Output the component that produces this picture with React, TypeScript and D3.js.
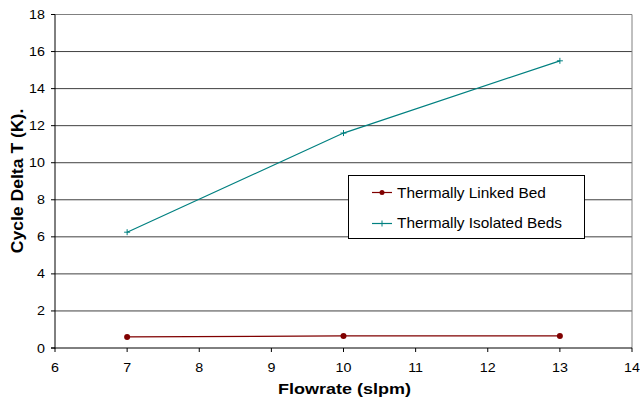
import React from "react";
import * as d3 from "d3";

const flowrates = [7, 10, 13];
const linkedValues = [0.6, 0.65, 0.65];
const isolatedValues = [6.25, 11.6, 15.5];
const xTicks = [6, 7, 8, 9, 10, 11, 12, 13, 14];
const yTicks = [0, 2, 4, 6, 8, 10, 12, 14, 16, 18];
const seriesNames = ["Thermally Linked Bed", "Thermally Isolated Beds"];

export default function App() {
  const W = 640, H = 403;
  const L = 55, R = 632, T = 14.5, B = 348;
  const SX = 1.1;
  const x = d3.scaleLinear().domain([6, 14]).range([L, R]);
  const y = d3.scaleLinear().domain([0, 18]).range([B, T]);
  const line = d3.line<[number, number]>().x(d => x(d[0])).y(d => y(d[1]));
  const linked = flowrates.map((f, i) => [f, linkedValues[i]] as [number, number]);
  const isolated = flowrates.map((f, i) => [f, isolatedValues[i]] as [number, number]);
  const font = "Liberation Sans, Arial, sans-serif";
  const red = "#800000";
  const teal = "#008080";
  const cross = (cx: number, cy: number, c: string, k: string) => (
    <g key={k} stroke={c} strokeWidth={1}>
      <line x1={cx - 3} x2={cx + 3} y1={cy} y2={cy} />
      <line x1={cx} x2={cx} y1={cy - 3} y2={cy + 3} />
    </g>
  );
  return (
    <svg width={W} height={H} style={{ position: "absolute", left: 0, top: 0, background: "#fff" }} fontFamily={font}>
      {yTicks.filter(t => t > 0).map(t => (
        <line key={"g" + t} x1={L} x2={R} y1={y(t)} y2={y(t)} stroke={t === 18 ? "#808080" : "#404040"} strokeWidth={1} />
      ))}
      <line x1={R} x2={R} y1={T} y2={B} stroke="#808080" strokeWidth={1} />
      <line x1={L} x2={L} y1={T} y2={B + 0.5} stroke="#000" strokeWidth={1} />
      <line x1={L - 4} x2={R} y1={B} y2={B} stroke="#000" strokeWidth={1} />
      {yTicks.map(t => (
        <g key={"y" + t}>
          <line x1={L - 4} x2={L} y1={y(t)} y2={y(t)} stroke="#000" />
          <text transform={`translate(${L - 10},${y(t) + 4.5}) scale(${SX},1)`} textAnchor="end" fontSize={13}>{t}</text>
        </g>
      ))}
      {xTicks.map(t => (
        <g key={"x" + t}>
          <line x1={x(t)} x2={x(t)} y1={B} y2={B + 4} stroke="#000" />
          <text transform={`translate(${x(t)},${B + 24}) scale(${SX},1)`} textAnchor="middle" fontSize={13}>{t}</text>
        </g>
      ))}
      <path d={line(linked) || ""} fill="none" stroke={red} strokeWidth={1.2} />
      {linked.map((d, i) => (
        <circle key={"c" + i} cx={x(d[0])} cy={y(d[1])} r={3} fill={red} />
      ))}
      <path d={line(isolated) || ""} fill="none" stroke={teal} strokeWidth={1.2} />
      {isolated.map((d, i) => cross(x(d[0]), y(d[1]), teal, "p" + i))}
      <text transform={`translate(${(L + R) / 2 + 1},394) scale(1.2,1)`} textAnchor="middle" fontSize={15} fontWeight="bold">Flowrate (slpm)</text>
      <text transform={`translate(23,181) rotate(-90) scale(1.1,1)`} textAnchor="middle" fontSize={16} fontWeight="bold">Cycle Delta T (K).</text>
      <rect x={348.5} y={175.5} width={236} height={63} fill="#fff" stroke="#000" strokeWidth={1} />
      <line x1={372} x2={392} y1={192.5} y2={192.5} stroke={red} strokeWidth={1.2} />
      <circle cx={382} cy={192.5} r={2.5} fill={red} />
      <text transform={`translate(397,197.5) scale(${SX},1)`} fontSize={14}>{seriesNames[0]}</text>
      <line x1={372} x2={392} y1={223.5} y2={223.5} stroke={teal} strokeWidth={1.2} />
      {cross(382, 223.5, teal, "lc")}
      <text transform={`translate(397,228) scale(${SX},1)`} fontSize={14}>{seriesNames[1]}</text>
    </svg>
  );
}
